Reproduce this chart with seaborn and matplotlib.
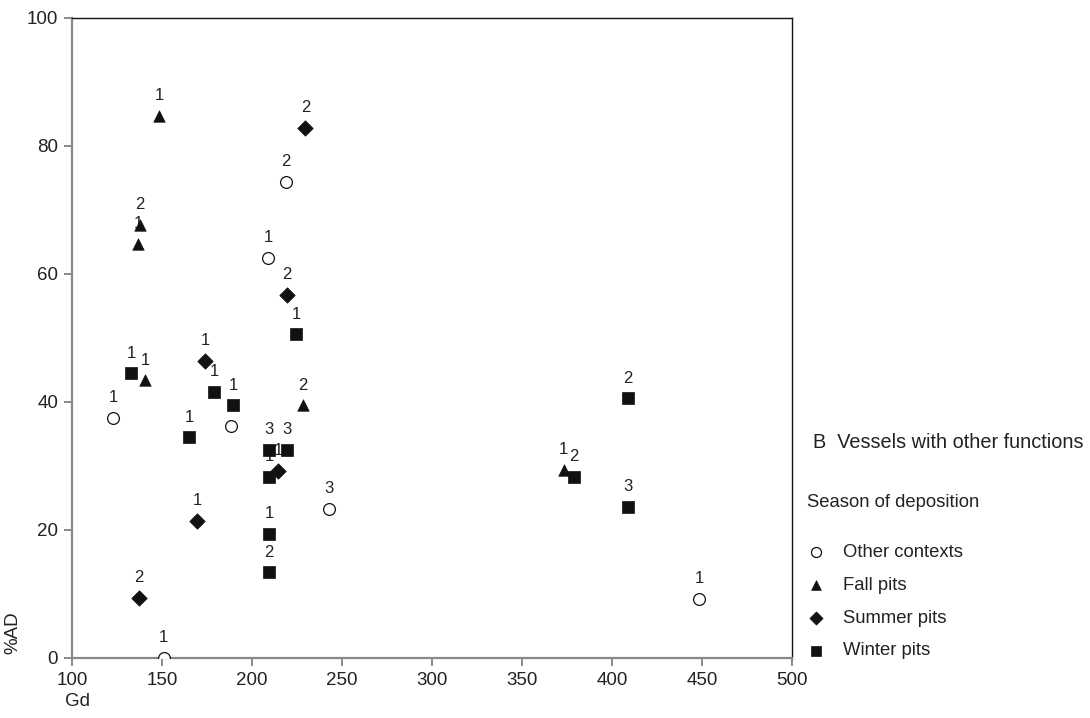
import matplotlib
matplotlib.use("Agg")
import matplotlib.pyplot as plt
import seaborn as sns
import pandas as pd

# Gd vs %AD for vessels with other functions, by season of deposition
other_gd = [122.8, 151.0, 188.5, 209.0, 219.0, 242.5, 448.4]
other_ad = [37.5, 0.0, 36.3, 62.5, 74.4, 23.3, 9.2]
other_lbl = ["1", "1", "", "1", "2", "3", "1"]

fall_gd = [148.4, 137.8, 136.7, 140.6, 228.5, 373.2]
fall_ad = [84.7, 67.7, 64.7, 43.4, 39.5, 29.4]
fall_lbl = ["1", "2", "1", "1", "2", "1"]

summer_gd = [229.7, 219.6, 174.0, 214.6, 169.6, 137.3]
summer_ad = [82.8, 56.7, 46.4, 29.2, 21.4, 9.4]
summer_lbl = ["2", "2", "1", "1", "1", "2"]

winter_gd = [132.8, 179.0, 189.6, 165.1, 209.6, 219.6, 209.6, 209.6, 209.6,
             224.7, 408.9, 378.8, 408.9]
winter_ad = [44.5, 41.6, 39.5, 34.5, 32.5, 32.5, 28.3, 19.4, 13.4,
             50.6, 40.6, 28.3, 23.6]
winter_lbl = ["1", "1", "1", "1", "3", "3", "1", "1", "2",
              "1", "2", "2", "3"]

seasons = ["Other contexts", "Fall pits", "Summer pits", "Winter pits"]
x_ticks = [100, 150, 200, 250, 300, 350, 400, 450, 500]
y_ticks = [0, 20, 40, 60, 80, 100]

frames = []
for name, gd, ad, lbl in zip(
        seasons,
        [other_gd, fall_gd, summer_gd, winter_gd],
        [other_ad, fall_ad, summer_ad, winter_ad],
        [other_lbl, fall_lbl, summer_lbl, winter_lbl]):
    frames.append(pd.DataFrame({"Gd": gd, "AD": ad, "label": lbl, "season": name}))
df = pd.concat(frames, ignore_index=True)

sns.set_theme(style="white")
plt.rcParams["font.family"] = ["Liberation Sans", "DejaVu Sans"]
ink = "#222222"

fig = plt.figure(figsize=(10.9, 7.18), dpi=100)
ax = fig.add_axes([72 / 1090, 60 / 718, 720 / 1090, 640 / 718])

styles = {
    "Other contexts": dict(marker="o", facecolor="white", edgecolor="#111111", s=72, linewidth=0.9),
    "Fall pits": dict(marker="^", facecolor="#111111", edgecolor="#111111", s=68, linewidth=0.5),
    "Summer pits": dict(marker="D", facecolor="#111111", edgecolor="#111111", s=62, linewidth=0.5),
    "Winter pits": dict(marker="s", facecolor="#111111", edgecolor="#111111", s=72, linewidth=0.5),
}

for name in seasons:
    sub = df[df["season"] == name]
    st = styles[name]
    sns.scatterplot(data=sub, x="Gd", y="AD", ax=ax, marker=st["marker"],
                    color=st["facecolor"], edgecolor=st["edgecolor"],
                    linewidth=st["linewidth"], s=st["s"], label=name, zorder=3)

# numeric labels above each point (drawn beneath the markers)
for _, row in df.iterrows():
    if row["label"]:
        ax.annotate(row["label"], (row["Gd"], row["AD"]), xytext=(0, 14.5),
                    textcoords="offset points", ha="center", va="center",
                    fontsize=12, color=ink, zorder=2)

ax.set_xlim(100, 500)
ax.set_ylim(0, 100)
ax.set_xticks(x_ticks)
ax.set_yticks(y_ticks)
ax.tick_params(axis="both", which="major", direction="out", length=6, width=1.2,
               color="#777777", labelsize=13.5, labelcolor=ink, pad=4,
               bottom=True, left=True)
ax.set_xlabel("")
ax.set_ylabel("")

for side in ["left", "bottom"]:
    ax.spines[side].set_color("#888888")
    ax.spines[side].set_linewidth(1.6)
for side in ["top", "right"]:
    ax.spines[side].set_color("#111111")
    ax.spines[side].set_linewidth(1.0)

fig.text(77 / 1090, 1 - 701 / 718, "Gd", ha="center", va="center", fontsize=13.5, color=ink)
fig.text(13 / 1090, 1 - 633 / 718, "%AD", ha="center", va="center", rotation=90,
         fontsize=13.5, color=ink)

fig.text(813 / 1090, 1 - 443 / 718, "B  Vessels with other functions", ha="left",
         va="center", fontsize=14.3, color=ink)

leg = ax.legend(title="Season of deposition", loc="upper left",
                bbox_to_anchor=(807 / 1090, 1 - 494 / 718), bbox_transform=fig.transFigure,
                frameon=False, fontsize=13.3, title_fontsize=13.3, markerscale=0.85,
                handletextpad=0.95, labelspacing=0.85, handlelength=1.0,
                borderaxespad=0, borderpad=0)
leg._legend_box.align = "left"
leg._legend_box.sep = 24
leg.get_title().set_color(ink)
for t in leg.get_texts():
    t.set_color(ink)

fig.savefig("out.png", dpi=100, facecolor="white")
